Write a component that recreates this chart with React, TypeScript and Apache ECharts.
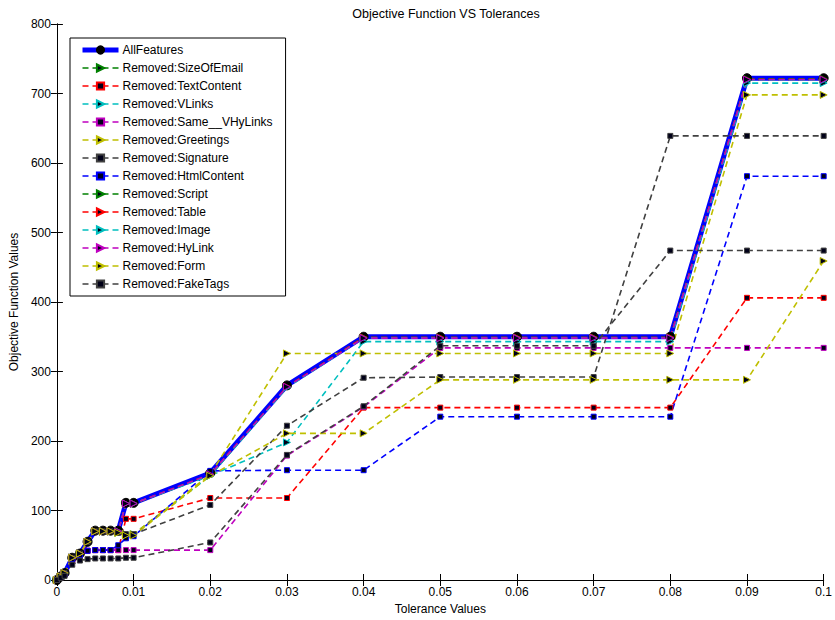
import React, { useEffect, useRef } from "react";
import * as echarts from "echarts";

const tolerances = [0, 0.0005, 0.001, 0.002, 0.003, 0.004, 0.005, 0.006, 0.007, 0.008, 0.009, 0.01, 0.02, 0.03, 0.04, 0.05, 0.06, 0.07, 0.08, 0.09, 0.1];

const allFeatures = [0, 5, 10, 32, 38, 55, 71, 71, 71, 71, 111, 111, 154, 280, 350, 350, 350, 350, 350, 722, 722];
const sizeOfEmail = [0, 5, 10, 32, 38, 55, 70, 70, 70, 70, 110, 110, 152, 278, 349, 349, 349, 349, 349, 721, 721];
const textContent = [0, 4, 8, 30, 36, 42, 43, 43, 43, 43, 88, 88, 118, 118, 248, 248, 248, 248, 248, 406, 406];
const vLinks = [0, 5, 10, 32, 38, 55, 70, 70, 70, 68, 66, 66, 150, 198, 343, 343, 343, 343, 343, 715, 715];
const sameVHyLinks = [0, 4, 8, 28, 34, 42, 43, 43, 43, 43, 43, 43, 43, 179, 249, 334, 334, 334, 334, 334, 334];
const greetings = [0, 5, 10, 32, 38, 55, 70, 70, 70, 68, 66, 66, 152, 326, 326, 326, 326, 326, 326, 698, 698];
const signature = [0, 5, 10, 32, 38, 55, 70, 70, 70, 68, 66, 66, 108, 222, 291, 292, 292, 292, 639, 639, 639];
const htmlContent = [0, 4, 8, 30, 36, 42, 43, 43, 43, 50, 60, 63, 157, 158, 158, 235, 235, 235, 235, 581, 581];
const script = [0, 5, 10, 32, 38, 55, 70, 70, 70, 70, 110, 110, 151, 278, 349, 349, 349, 349, 349, 720, 720];
const table = [0, 5, 10, 32, 38, 55, 70, 70, 70, 70, 110, 110, 151, 278, 349, 349, 349, 349, 349, 720, 720];
const image = [0, 5, 10, 32, 38, 55, 70, 70, 70, 70, 110, 110, 150, 277, 348, 348, 348, 348, 348, 719, 719];
const hyLink = [0, 5, 10, 32, 38, 55, 70, 70, 70, 70, 110, 110, 152, 278, 348, 348, 348, 348, 348, 720, 720];
const form = [0, 5, 10, 32, 38, 55, 70, 70, 70, 68, 64, 64, 150, 211, 211, 288, 288, 288, 288, 288, 459];
const fakeTags = [0, 3, 6, 22, 28, 30, 31, 31, 31, 31, 32, 32, 54, 180, 250, 337, 337, 337, 474, 474, 474];

const xTicks = ["0", "0.01", "0.02", "0.03", "0.04", "0.05", "0.06", "0.07", "0.08", "0.09", "0.1"];

const BLUE = "#0000ff";
const GREEN = "#008000";
const RED = "#ff0000";
const CYAN = "#00bfbf";
const MAGENTA = "#bf00bf";
const OLIVE = "#bfbf00";
const GRAY = "#404040";

const defs: [string, number[], string, string][] = [
  ["AllFeatures", allFeatures, BLUE, "circle"],
  ["Removed:SizeOfEmail", sizeOfEmail, GREEN, "tri"],
  ["Removed:TextContent", textContent, RED, "sq"],
  ["Removed:VLinks", vLinks, CYAN, "tri"],
  ["Removed:Same__VHyLinks", sameVHyLinks, MAGENTA, "sq"],
  ["Removed:Greetings", greetings, OLIVE, "tri"],
  ["Removed:Signature", signature, GRAY, "sq"],
  ["Removed:HtmlContent", htmlContent, BLUE, "sq"],
  ["Removed:Script", script, GREEN, "tri"],
  ["Removed:Table", table, RED, "tri"],
  ["Removed:Image", image, CYAN, "tri"],
  ["Removed:HyLink", hyLink, MAGENTA, "tri"],
  ["Removed:Form", form, OLIVE, "tri"],
  ["Removed:FakeTags", fakeTags, GRAY, "sq"],
];

const FONT = "Liberation Sans, Arial, sans-serif";

export default function App() {
  const ref = useRef<HTMLDivElement>(null);
  useEffect(() => {
    if (!ref.current) return;
    const chart = echarts.init(ref.current, null, { renderer: "svg" });
    const series = defs.map(([name, vals, color, mk]) => {
      const isAll = mk === "circle";
      return {
        name,
        type: "line",
        data: tolerances.map((x, i) => [x, vals[i]]),
        symbol: isAll ? "circle" : mk === "sq" ? "rect" : "triangle",
        symbolSize: isAll ? 9 : mk === "sq" ? 5 : 7,
        symbolRotate: mk === "tri" ? -90 : 0,
        lineStyle: {
          color,
          width: isAll ? 5 : 1.6,
          type: isAll ? "solid" : [6, 4],
        },
        itemStyle: {
          color: isAll ? "#000000" : "#000018",
          borderColor: isAll ? "#000000" : color,
          borderWidth: 1,
        },
        emphasis: { disabled: true },
        silent: true,
      };
    });
    chart.setOption({
      animation: false,
      backgroundColor: "#ffffff",
      title: {
        text: "Objective Function VS Tolerances",
        left: 441,
        textAlign: "center",
        top: 2,
        textStyle: { fontFamily: FONT, fontSize: 12.5, fontWeight: "normal", color: "#000" },
      },
      legend: {
        orient: "vertical",
        left: 70,
        top: 38,
        padding: [5, 13, 5, 10],
        itemWidth: 36,
        itemHeight: 9,
        itemGap: 4,
        selectedMode: false,
        borderColor: "#000",
        borderWidth: 1,
        backgroundColor: "#fff",
        lineStyle: { width: "inherit" },
        textStyle: { fontFamily: FONT, fontSize: 12, color: "#000", lineHeight: 14, padding: [0, 0, 0, -1] },
        data: defs.map((d) => d[0]),
      },
      grid: { left: 53, right: 6, top: 24, bottom: 40, containLabel: false },
      xAxis: [
        {
          type: "value",
          min: 0,
          max: 0.1,
          interval: 0.01,
          name: "Tolerance Values",
          nameLocation: "middle",
          nameGap: 20,
          nameTextStyle: { fontFamily: FONT, fontSize: 12, color: "#000" },
          axisLine: { show: true, lineStyle: { color: "#000", width: 1 } },
          axisTick: { show: true, inside: true, length: 6, lineStyle: { color: "#000" } },
          axisLabel: {
            fontFamily: FONT,
            fontSize: 12,
            color: "#000",
            margin: 6,
            formatter: (v: number) => xTicks[Math.round(v * 100)] ?? "",
          },
          splitLine: { show: false },
        },
        {
          type: "value",
          position: "top",
          min: 0,
          max: 0.1,
          interval: 0.01,
          axisLine: { show: true, lineStyle: { color: "#000", width: 1 } },
          axisTick: { show: true, inside: true, length: 6, lineStyle: { color: "#000" } },
          axisLabel: { show: false },
          splitLine: { show: false },
        },
      ],
      yAxis: [
        {
          type: "value",
          min: 0,
          max: 800,
          interval: 100,
          name: "Objective Function Values",
          nameLocation: "middle",
          nameGap: 33,
          nameTextStyle: { fontFamily: FONT, fontSize: 12, color: "#000" },
          axisLine: { show: true, lineStyle: { color: "#000", width: 1 } },
          axisTick: { show: true, inside: true, length: 6, lineStyle: { color: "#000" } },
          axisLabel: { fontFamily: FONT, fontSize: 12, color: "#000", margin: 6 },
          splitLine: { show: false },
        },
        {
          type: "value",
          position: "right",
          min: 0,
          max: 800,
          interval: 100,
          axisLine: { show: true, lineStyle: { color: "#000", width: 1 } },
          axisTick: { show: true, inside: true, length: 6, lineStyle: { color: "#000" } },
          axisLabel: { show: false },
          splitLine: { show: false },
        },
      ],
      series,
    });
    return () => chart.dispose();
  }, []);
  return <div ref={ref} style={{ width: 835, height: 620, position: "absolute", left: 0, top: 0 }} />;
}
